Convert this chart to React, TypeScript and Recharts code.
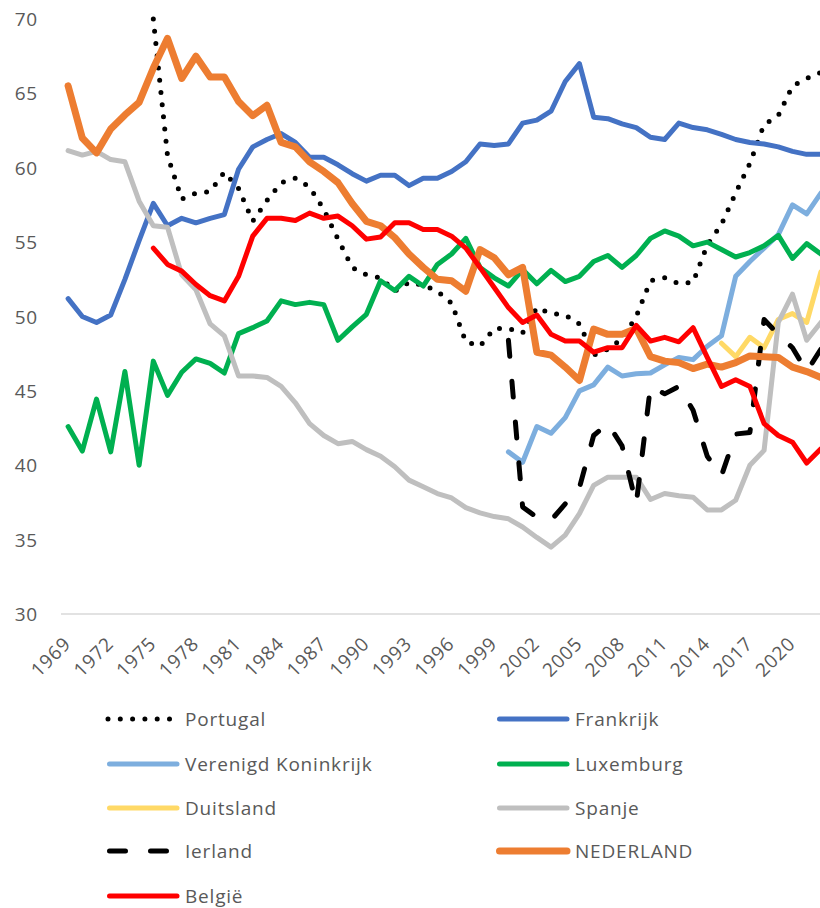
import { LineChart, Line, XAxis, YAxis } from "recharts";

const years = [
  1969, 1970, 1971, 1972, 1973, 1974, 1975, 1976, 1977, 1978, 1979, 1980, 1981, 1982,
  1983, 1984, 1985, 1986, 1987, 1988, 1989, 1990, 1991, 1992, 1993, 1994, 1995, 1996,
  1997, 1998, 1999, 2000, 2001, 2002, 2003, 2004, 2005, 2006, 2007, 2008, 2009, 2010,
  2011, 2012, 2013, 2014, 2015, 2016, 2017, 2018, 2019, 2020, 2021, 2022,
];

const yTicks = [30, 35, 40, 45, 50, 55, 60, 65, 70];

// 1969 .. 2022, null = no data
const portugal = [
  null, null, null, null, null, null, 70.0, 60.8, 57.9, 58.3, 58.4, 59.7, 58.6, 56.4,
  57.8, 59.0, 59.3, 58.7, 57.2, 55.2, 53.3, 52.8, 52.6, 51.7, 52.3, 52.1, 51.7, 50.9,
  48.3, 48.0, 49.2, 49.2, 48.9, 50.6, 50.2, 50.1, 49.5, 47.4, 47.8, 48.5, 50.0, 52.4,
  52.6, 52.2, 52.3, 54.8, 56.2, 58.3, 60.3, 62.9, 63.5, 65.5, 66.0, 66.4,
];
const frankrijk = [
  51.2, 50.0, 49.6, 50.1, 52.5, 55.1, 57.6, 56.1, 56.6, 56.3, 56.6, 56.85, 59.9, 61.4,
  61.9, 62.3, 61.7, 60.7, 60.7, 60.2, 59.6, 59.1, 59.5, 59.5, 58.8, 59.3, 59.3, 59.75,
  60.4, 61.6, 61.5, 61.6, 63.0, 63.2, 63.8, 65.8, 67.0, 63.4, 63.3, 62.95, 62.7, 62.05,
  61.9, 63.0, 62.7, 62.55, 62.25, 61.9, 61.7, 61.6, 61.4, 61.1, 60.9, 60.9,
];
const verenigdKoninkrijk = [
  null, null, null, null, null, null, null, null, null, null, null, null, null, null,
  null, null, null, null, null, null, null, null, null, null, null, null, null, null,
  null, null, null, 40.9, 40.2, 42.6, 42.15, 43.2, 45.0, 45.4, 46.6, 46.0, 46.15, 46.2,
  46.75, 47.25, 47.1, 48.0, 48.7, 52.7, 53.7, 54.6, 55.5, 57.5, 56.9, 58.3,
];
const luxemburg = [
  42.6, 40.95, 44.45, 40.9, 46.3, 40.0, 47.0, 44.7, 46.25, 47.15, 46.85, 46.2, 48.85, 49.25,
  49.7, 51.05, 50.8, 50.95, 50.8, 48.4, 49.3, 50.15, 52.4, 51.75, 52.7, 52.05, 53.5, 54.2,
  55.25, 53.3, 52.6, 52.05, 53.15, 52.2, 53.1, 52.35, 52.7, 53.7, 54.1, 53.3, 54.1, 55.25,
  55.75, 55.4, 54.75, 55.0, 54.5, 54.0, 54.3, 54.75, 55.45, 53.9, 54.9, 54.2,
];
const duitsland = [
  null, null, null, null, null, null, null, null, null, null, null, null, null, null,
  null, null, null, null, null, null, null, null, null, null, null, null, null, null,
  null, null, null, null, null, null, null, null, null, null, null, null, null, null,
  null, null, null, null, 48.2, 47.3, 48.6, 47.9, 49.8, 50.2, 49.6, 53.0,
];
const spanje = [
  61.15, 60.85, 61.1, 60.55, 60.4, 57.75, 56.1, 56.0, 52.8, 51.8, 49.5, 48.7, 46.0, 46.0,
  45.9, 45.3, 44.2, 42.8, 42.0, 41.45, 41.6, 41.05, 40.6, 39.9, 39.0, 38.55, 38.1, 37.8,
  37.15, 36.8, 36.55, 36.4, 35.85, 35.15, 34.5, 35.3, 36.75, 38.65, 39.2, 39.2, 39.2, 37.7,
  38.1, 37.95, 37.85, 37.0, 37.0, 37.65, 40.0, 41.0, 49.6, 51.5, 48.4, 49.6,
];
const ierland = [
  null, null, null, null, null, null, null, null, null, null, null, null, null, null,
  null, null, null, null, null, null, null, null, null, null, null, null, null, null,
  null, null, null, 48.4, 37.2, 36.5, 36.3, 37.4, 38.5, 42.0, 42.8, 41.3, 37.4, 45.3,
  44.8, 45.3, 43.7, 40.6, 39.3, 42.1, 42.2, 49.8, 48.8, 47.9, 46.3, 47.8,
];
const nederland = [
  65.5, 62.0, 61.0, 62.6, 63.55, 64.4, 66.7, 68.7, 66.0, 67.5, 66.1, 66.1, 64.45, 63.5,
  64.2, 61.7, 61.4, 60.4, 59.75, 59.0, 57.6, 56.4, 56.1, 55.3, 54.2, 53.3, 52.5, 52.4,
  51.7, 54.5, 53.95, 52.8, 53.3, 47.6, 47.4, 46.6, 45.7, 49.15, 48.8, 48.8, 49.2, 47.3,
  47.0, 46.9, 46.5, 46.8, 46.6, 46.9, 47.35, 47.3, 47.25, 46.6, 46.3, 45.9,
];
const belgie = [
  null, null, null, null, null, null, 54.6, 53.5, 53.05, 52.15, 51.4, 51.05, 52.7, 55.4,
  56.6, 56.6, 56.45, 56.95, 56.6, 56.75, 56.1, 55.2, 55.35, 56.3, 56.3, 55.85, 55.85, 55.4,
  54.6, 53.3, 51.95, 50.6, 49.6, 50.1, 48.8, 48.35, 48.35, 47.6, 47.9, 47.9, 49.4, 48.35,
  48.6, 48.3, 49.25, 47.25, 45.3, 45.75, 45.3, 42.8, 42.0, 41.55, 40.15, 41.1,
];

const series = [
  { key: "portugal", name: "Portugal", color: "#000000", width: 5, dash: "0 12.3", values: portugal },
  { key: "frankrijk", name: "Frankrijk", color: "#4472C4", width: 5, dash: undefined, values: frankrijk },
  { key: "vk", name: "Verenigd Koninkrijk", color: "#7DAEDE", width: 5, dash: undefined, values: verenigdKoninkrijk },
  { key: "luxemburg", name: "Luxemburg", color: "#00B050", width: 5, dash: undefined, values: luxemburg },
  { key: "duitsland", name: "Duitsland", color: "#FFD966", width: 5, dash: undefined, values: duitsland },
  { key: "spanje", name: "Spanje", color: "#BFBFBF", width: 5, dash: undefined, values: spanje },
  { key: "ierland", name: "Ierland", color: "#000000", width: 5, dash: "16 25", values: ierland },
  { key: "nederland", name: "NEDERLAND", color: "#ED7D31", width: 7, dash: undefined, values: nederland },
  { key: "belgie", name: "België", color: "#FF0000", width: 5, dash: undefined, values: belgie },
];

const rows = years.map((year, i) => {
  const row: Record<string, number | null> = { year };
  series.forEach((s) => {
    row[s.key] = s.values[i];
  });
  return row;
});

const FONT = "'Open Sans', 'Noto Sans', sans-serif";
const TEXT = "#595959";

const XTick = ({ x, y, payload }: any) => (
  <g transform={`translate(${x + 4},${y + 23})`}>
    <text
      textAnchor="end"
      transform="rotate(-45)"
      fontFamily={FONT}
      fontSize={19}
      letterSpacing={0.8}
      fill={TEXT}
    >
      {payload.value}
    </text>
  </g>
);

const YTick = ({ y, payload }: any) => (
  <text
    x={38}
    y={y}
    dy={7}
    textAnchor="end"
    fontFamily={FONT}
    fontSize={19}
    letterSpacing={0.8}
    fill={TEXT}
  >
    {payload.value}
  </text>
);

function ChartLegend() {
  const rowY = [719, 764, 808, 851, 896];
  const colX = [107, 497];
  return (
    <svg
      width={820}
      height={908}
      style={{ position: "absolute", left: 0, top: 0, pointerEvents: "none" }}
    >
      {series.map((s, i) => {
        const cx = colX[i % 2];
        const cy = rowY[Math.floor(i / 2)];
        let sample;
        if (s.key === "portugal") {
          sample = (
            <line x1={cx + 1} y1={cy} x2={cx + 66} y2={cy} stroke={s.color}
              strokeWidth={s.width} strokeDasharray={s.dash} strokeLinecap="round" />
          );
        } else if (s.key === "ierland") {
          sample = (
            <line x1={cx + 2.5} y1={cy} x2={cx + 66} y2={cy} stroke={s.color}
              strokeWidth={s.width} strokeDasharray={s.dash} strokeLinecap="round" />
          );
        } else {
          sample = (
            <line x1={cx + 2.5} y1={cy} x2={cx + 70} y2={cy} stroke={s.color}
              strokeWidth={s.width} strokeLinecap="round" />
          );
        }
        return (
          <g key={s.key}>
            {sample}
            <text x={cx + 78} y={cy + 7} fontFamily={FONT} fontSize={19}
              letterSpacing={0.8} fill={TEXT}>
              {s.name}
            </text>
          </g>
        );
      })}
    </svg>
  );
}

export default function App() {
  return (
    <div
      style={{
        position: "absolute",
        left: 0,
        top: 0,
        width: 820,
        height: 908,
        overflow: "hidden",
        background: "#ffffff",
      }}
    >
      <LineChart
        width={840}
        height={720}
        data={rows}
        margin={{ top: 19, right: 12, left: 0, bottom: 6 }}
      >
        <XAxis
          dataKey="year"
          interval={2}
          tickLine={false}
          axisLine={{ stroke: "#D9D9D9", strokeWidth: 1.5 }}
          padding={{ left: 7.1, right: 7.1 }}
          height={100}
          tick={<XTick />}
        />
        <YAxis
          domain={[30, 70]}
          ticks={yTicks}
          width={61}
          axisLine={false}
          tickLine={false}
          tick={<YTick />}
        />
        {series.map((s) => (
          <Line
            key={s.key}
            dataKey={s.key}
            name={s.name}
            type="linear"
            stroke={s.color}
            strokeWidth={s.width}
            strokeDasharray={s.dash}
            strokeLinecap="round"
            strokeLinejoin="round"
            dot={false}
            activeDot={false}
            isAnimationActive={false}
          />
        ))}
      </LineChart>
      <ChartLegend />
    </div>
  );
}
